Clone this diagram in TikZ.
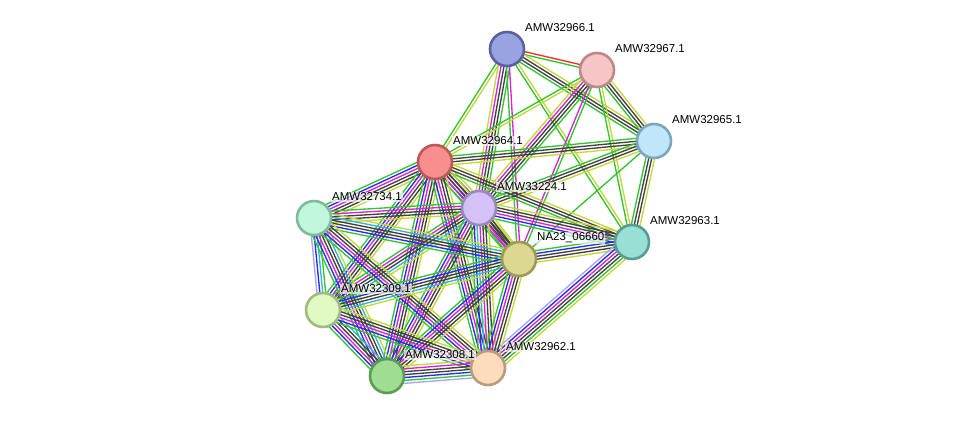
\documentclass[tikz,border=0pt]{standalone}
\usepackage{fontspec}
\setmainfont{Liberation Sans}
\usetikzlibrary{calc}
\definecolor{cgr}{HTML}{33C433}
\definecolor{cred}{HTML}{FF2A2A}
\definecolor{cblu}{HTML}{2A2AF0}
\definecolor{cblk}{HTML}{424242}
\definecolor{cmag}{HTML}{DD22DD}
\definecolor{ccya}{HTML}{2EB6DE}
\definecolor{cyel}{HTML}{C4D83A}
\definecolor{chom}{HTML}{A6A6F6}
\newcommand\sedge[3]{%
  \foreach \cc [count=\ii] in {#3} {\xdef\ncnt{\ii}}%
  \foreach \cc [count=\ii] in {#3} {%
    \pgfmathsetmacro\off{(\ii-(\ncnt+1)/2)*2.9}%
    \draw[\cc, edgeline] ($(#1)!\off pt!90:(#2)$) -- ($(#2)!\off pt!-90:(#1)$);
  }%
}
\tikzset{
  edgeline/.style={line width=1.35pt},
  prot/.style={circle, minimum size=34pt, inner sep=0pt, line width=2.6pt},
  lbl/.style={anchor=west, font=\fontsize{11.5}{13}\selectfont, fill=white, fill opacity=0.65, text opacity=1, inner sep=1pt},
}
\begin{document}
\begin{tikzpicture}[x=1pt,y=-1pt]
\useasboundingbox (0,0) rectangle (975,422);
\coordinate (A) at (507,49);
\coordinate (B) at (597,70);
\coordinate (C) at (654,141);
\coordinate (D) at (435,162);
\coordinate (E) at (479,208);
\coordinate (F) at (314,218);
\coordinate (G) at (632,242);
\coordinate (H) at (519,259);
\coordinate (I) at (323,310);
\coordinate (J) at (387,376);
\coordinate (K) at (488,368);
% edges
\sedge{A}{B}{cgr,cred}
\sedge{A}{C}{cgr,cblk,cblk,cyel}
\sedge{A}{G}{cgr,cyel}
\sedge{A}{D}{cgr,cyel}
\sedge{A}{E}{cyel,cmag,cblk,cblk,cgr}
\sedge{A}{H}{cgr,cmag}
\sedge{B}{C}{cgr,cblk,cblk,cyel}
\sedge{B}{D}{cgr,cyel}
\sedge{B}{E}{cyel,cmag,cblk,cblk,cgr}
\sedge{B}{H}{cmag,cgr}
\sedge{B}{G}{cgr,cyel}
\sedge{C}{D}{cgr,cblk,cblk,cyel}
\sedge{C}{E}{cgr,cblk,cblk,cyel}
\sedge{C}{G}{cgr,cblk,cblk,cyel}
\sedge{C}{H}{cgr}
\sedge{D}{E}{cgr,cblu,cmag,cblk,cblk,cyel}
\sedge{D}{F}{cgr,cblu,cmag,cblk,cblk,cyel}
\sedge{D}{G}{cgr,cblk,cblk,cyel}
\sedge{D}{H}{cgr,cmag,cblk,cblk,cyel}
\sedge{D}{I}{cgr,cblu,cmag,cblk,cblk,cyel}
\sedge{D}{J}{cgr,cblu,cmag,cblk,cblk,cyel}
\sedge{D}{K}{cgr,cblu,cmag,cblk,cblk,cyel}
\sedge{E}{F}{cgr,cmag,cblk,cblk,cyel}
\sedge{E}{G}{cgr,cblu,cmag,cblk,cblk,cyel}
\sedge{E}{H}{cgr,cmag,cblk,cblk,cyel}
\sedge{E}{I}{cgr,cmag,cblk,cblk,ccya,cyel}
\sedge{E}{J}{cgr,cblu,cmag,cblk,cblk,cyel}
\sedge{E}{K}{cgr,cblu,ccya,cmag,cblk,cblk,cyel}
\sedge{F}{H}{cgr,cblu,cblk,cblk,ccya,cyel}
\sedge{F}{I}{chom,cblu,ccya,cgr}
\sedge{F}{J}{cgr,cblu,cmag,cblk,cblk,ccya,cyel}
\sedge{F}{K}{cgr,cblu,cmag,cblk,cblk,cyel}
\sedge{G}{H}{cgr,cblu,cblk,cblk,cyel}
\sedge{G}{K}{chom,cblu,cmag,cblk,cblk,cgr,cyel}
\sedge{H}{I}{cgr,cblu,cblk,cblk,ccya,cyel}
\sedge{H}{J}{cgr,cblu,cmag,cblk,cblk,cyel}
\sedge{H}{K}{cgr,cblu,cmag,cblk,cblk,cyel}
\sedge{I}{J}{cgr,cblu,cmag,cblk,cblk,ccya}
\sedge{I}{K}{cgr,cblu,cmag,cblk,cblk,cyel}
\sedge{J}{K}{chom,cgr,cblu,cblk,cblk,cmag,cyel}
% nodes
\node[prot, fill={rgb,255:red,154;green,163;blue,226}, draw={rgb,255:red,88;green,98;blue,160}] (nA) at (A) {};
\node[prot, fill={rgb,255:red,247;green,197;blue,197}, draw={rgb,255:red,190;green,136;blue,136}] (nB) at (B) {};
\node[prot, fill={rgb,255:red,192;green,230;blue,250}, draw={rgb,255:red,124;green,166;blue,190}] (nC) at (C) {};
\node[prot, fill={rgb,255:red,249;green,142;blue,142}, draw={rgb,255:red,190;green,88;blue,88}] (nD) at (D) {};
\node[prot, fill={rgb,255:red,211;green,194;blue,248}, draw={rgb,255:red,152;green,136;blue,190}] (nE) at (E) {};
\node[prot, fill={rgb,255:red,193;green,247;blue,218}, draw={rgb,255:red,130;green,186;blue,156}] (nF) at (F) {};
\node[prot, fill={rgb,255:red,152;green,223;blue,213}, draw={rgb,255:red,88;green,156;blue,146}] (nG) at (G) {};
\node[prot, fill={rgb,255:red,220;green,216;blue,146}, draw={rgb,255:red,158;green,154;blue,88}] (nH) at (H) {};
\node[prot, fill={rgb,255:red,225;green,250;blue,194}, draw={rgb,255:red,160;green,186;blue,130}] (nI) at (I) {};
\node[prot, fill={rgb,255:red,158;green,221;blue,146}, draw={rgb,255:red,92;green,156;blue,84}] (nJ) at (J) {};
\node[prot, fill={rgb,255:red,252;green,220;blue,188}, draw={rgb,255:red,186;green,156;blue,124}] (nK) at (K) {};
% labels
\node[lbl] (tA) at ($(A)+(17,-21)$) {AMW32966.1};
\node[lbl] (tB) at ($(B)+(17,-21)$) {AMW32967.1};
\node[lbl] (tC) at ($(C)+(17,-21)$) {AMW32965.1};
\node[lbl] (tD) at ($(D)+(17,-21)$) {AMW32964.1};
\node[lbl] (tE) at ($(E)+(17,-21)$) {AMW33224.1};
\node[lbl] (tF) at ($(F)+(17,-21)$) {AMW32734.1};
\node[lbl] (tG) at ($(G)+(17,-21)$) {AMW32963.1};
\node[lbl] (tH) at ($(H)+(17,-21)$) {NA23\_06660};
\node[lbl] (tI) at ($(I)+(17,-21)$) {AMW32309.1};
\node[lbl] (tJ) at ($(J)+(17,-21)$) {AMW32308.1};
\node[lbl] (tK) at ($(K)+(17,-21)$) {AMW32962.1};
\end{tikzpicture}
\end{document}
